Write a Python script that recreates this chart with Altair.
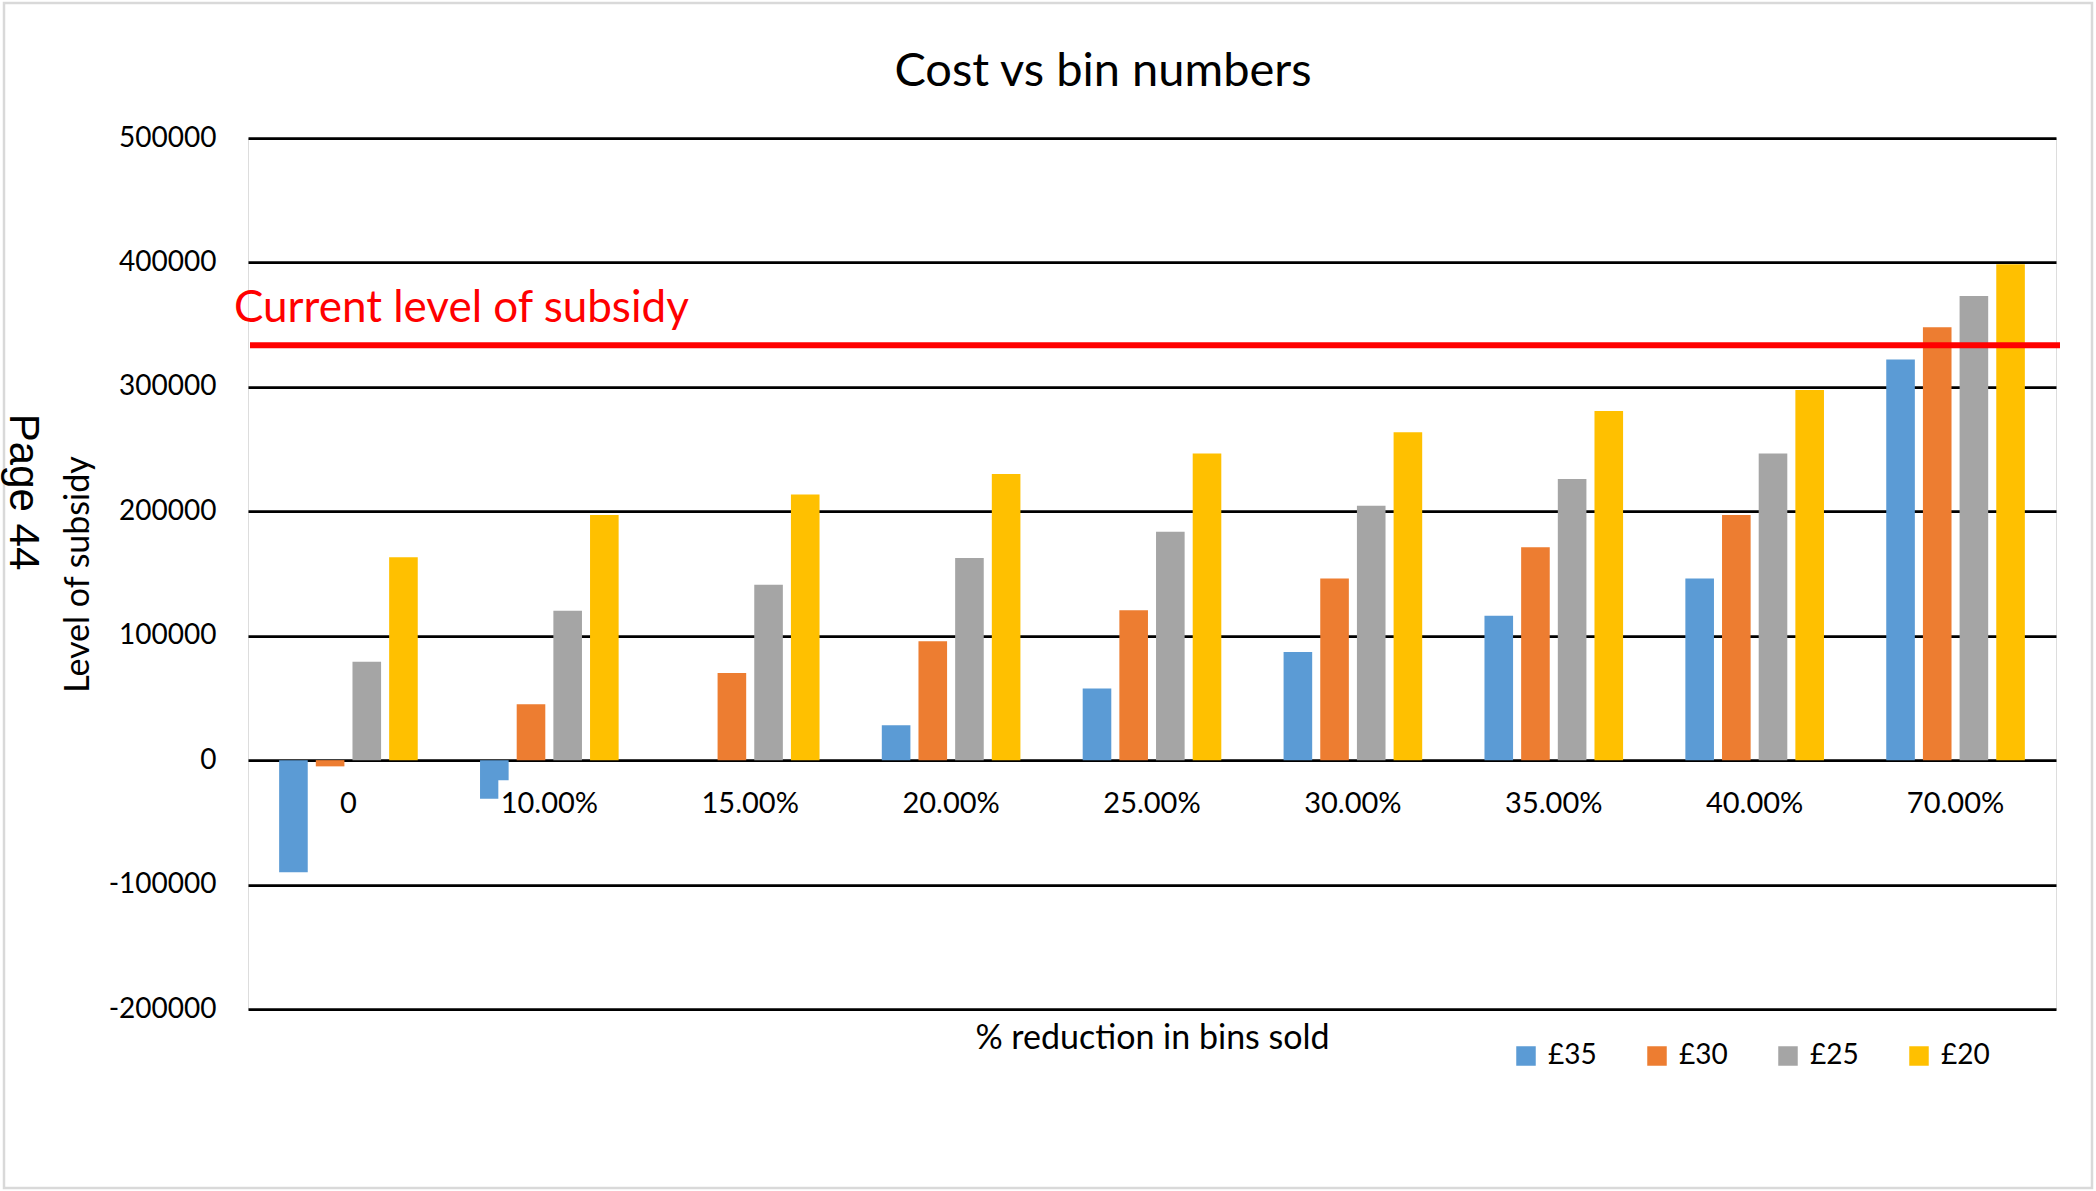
import altair as alt
import pandas as pd

# Subsidy level for each bin price across the % reduction in bins sold
categories = ["0", "10.00%", "15.00%", "20.00%", "25.00%", "30.00%", "35.00%", "40.00%", "70.00%"]
price_labels = ["£35", "£30", "£25", "£20"]
price_35 = [-90000, -31000, 0, 28000, 57500, 87000, 116000, 146000, 322000]
price_30 = [-5000, 45000, 70000, 95500, 120500, 146000, 171000, 197000, 348000]
price_25 = [79000, 120000, 141000, 162500, 183500, 204500, 226000, 246500, 373000]
price_20 = [163000, 197000, 213500, 230000, 246500, 263500, 280500, 297500, 398500]
current_subsidy = 333500
y_ticks = [-200000, -100000, 0, 100000, 200000, 300000, 400000, 500000]

colors = ["#5B9BD5", "#ED7D31", "#A5A5A5", "#FFC000"]
FONT = "Lato"

rows = []
for price, series in zip(price_labels, [price_35, price_30, price_25, price_20]):
    for cat, val in zip(categories, series):
        rows.append({"reduction": cat, "price": price, "subsidy": val})
bars_df = pd.DataFrame(rows)
cats_df = pd.DataFrame({"reduction": categories})
one_row = pd.DataFrame({"k": [0]})

x_scale = alt.Scale(domain=categories, paddingInner=0.31, paddingOuter=0.155)
y_scale = alt.Scale(domain=[-200000, 500000], nice=False, zero=False)

x_enc = alt.X(
    "reduction:N",
    scale=x_scale,
    sort=categories,
    axis=alt.Axis(
        labels=False, ticks=False, domain=False, grid=False,
        title="% reduction in bins sold",
        titleFont=FONT, titleFontSize=34, titleFontWeight="normal",
        titleColor="black", titlePadding=12,
    ),
)

bars = alt.Chart(bars_df).mark_bar().encode(
    x=x_enc,
    xOffset=alt.XOffset(
        "price:N", sort=price_labels,
        scale=alt.Scale(domain=price_labels, paddingInner=0.22, paddingOuter=0),
    ),
    y=alt.Y(
        "subsidy:Q",
        scale=y_scale,
        axis=alt.Axis(
            values=y_ticks, labelExpr="'' + datum.value", domain=False, ticks=False,
            grid=True, gridColor="black", gridWidth=2.75,
            labelFont=FONT, labelFontSize=28, labelColor="black", labelPadding=32,
            title="Level of subsidy", titleFont=FONT, titleFontSize=34,
            titleFontWeight="normal", titleColor="black",
            titleX=-170, titleY=436, titleAlign="center", titleBaseline="middle",
        ),
    ),
    color=alt.Color(
        "price:N",
        sort=price_labels,
        scale=alt.Scale(domain=price_labels, range=colors),
        legend=alt.Legend(
            title=None, orient="none", legendX=1264, legendY=904,
            direction="horizontal", symbolType="square", symbolSize=380,
            symbolStrokeWidth=0, labelFont=FONT, labelFontSize=28,
            labelColor="black", labelOffset=8, columnPadding=46, padding=0,
        ),
    ),
)

# white boxes behind the category labels (they sit on the zero line)
label_boxes = alt.Chart(cats_df).transform_filter(
    alt.datum.reduction != "0"
).mark_rect(color="white", width=102, yOffset=20, y2Offset=60).encode(
    x=alt.X("reduction:N", scale=x_scale, sort=categories),
    y=alt.datum(0, scale=y_scale),
    y2=alt.datum(0),
)

cat_labels = alt.Chart(cats_df).mark_text(
    font=FONT, fontSize=29, color="black", baseline="alphabetic", dy=53
).encode(
    x=alt.X("reduction:N", scale=x_scale, sort=categories),
    y=alt.datum(0, scale=y_scale),
    text="reduction:N",
)

subsidy_rule = alt.Chart(one_row).mark_rule(color="#FF0000", strokeWidth=6).encode(
    x=alt.value(2), x2=alt.value(1812), y=alt.datum(current_subsidy, scale=y_scale)
)

subsidy_text = alt.Chart(one_row).mark_text(
    text="Current level of subsidy", font=FONT, fontSize=44, color="#FF0000",
    align="left", baseline="alphabetic", dy=-23,
).encode(x=alt.value(-14), y=alt.datum(current_subsidy, scale=y_scale))

title_text = alt.Chart(one_row).mark_text(
    text="Cost vs bin numbers", font=FONT, fontSize=47, color="black",
    align="center", baseline="alphabetic",
).encode(x=alt.value(855), y=alt.value(-52))

page_text = alt.Chart(one_row).mark_text(
    text="Page 44", font="Liberation Sans", fontSize=42, color="black",
    angle=90, align="center", baseline="middle",
).encode(x=alt.value(-225), y=alt.value(354))

frame = alt.Chart(one_row).mark_rect(
    fillOpacity=0, stroke="#d9d9d9", strokeWidth=2.5
).encode(
    x=alt.value(-244), x2=alt.value(1844), y=alt.value(-135), y2=alt.value(1050)
)

chart = alt.layer(
    frame, bars, label_boxes, cat_labels, subsidy_rule, subsidy_text,
    title_text, page_text
).properties(
    width=1808,
    height=871,
    padding={"left": 248, "top": 138, "right": 40, "bottom": 182},
    autosize=alt.AutoSizeParams(type="none"),
).configure_view(stroke=None).configure(background="white")

chart.save("out.html", embed_options={"renderer": "svg", "actions": False})
